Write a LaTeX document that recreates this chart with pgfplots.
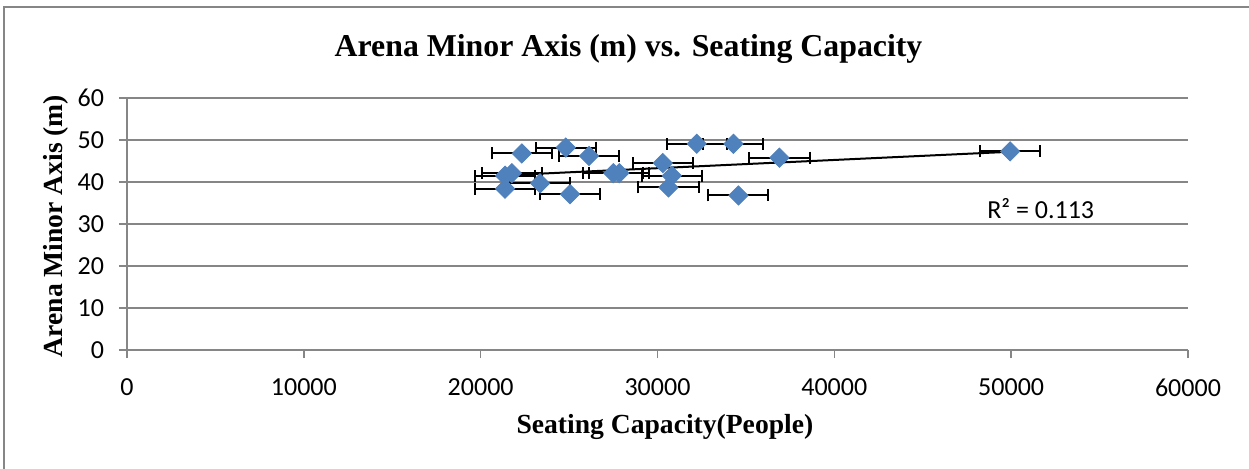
\documentclass[border=0pt]{standalone}
\usepackage{pgfplots}
\pgfplotsset{compat=1.18}
\usepackage{fontspec}
\setmainfont{Liberation Serif}
\newfontfamily\carlito{Carlito}
\definecolor{gridgray}{RGB}{134,134,134}
\definecolor{markblue}{RGB}{79,129,189}

\begin{document}
\begin{tikzpicture}
\useasboundingbox (0,0) rectangle (624.5pt,234pt);
% chart area border (only top and left visible)
\draw[gridgray, line width=0.75pt] (2pt,-2pt) -- (2pt,230.5pt) -- (627pt,230.5pt);
\begin{axis}[
    at={(63.5pt,59pt)}, anchor=south west,
    scale only axis, width=530.5pt, height=126pt,
    xmin=0, xmax=60000, ymin=0, ymax=60,
    xtick={0,10000,...,60000}, ytick={0,10,...,60},
    scaled ticks=false,
    /pgf/number format/1000 sep={},
    /pgf/number format/assume math mode=true,
    tick label style={font=\carlito\fontsize{13}{15}\selectfont, black},
    xticklabel style={yshift=-7pt},
    yticklabel style={xshift=-4pt},
    axis lines=left,
    axis line style={gridgray, line width=0.75pt, -},
    ymajorgrids,
    grid style={gridgray, line width=0.75pt},
    tick style={gridgray, line width=0.75pt},
    major tick length=4pt, tick align=outside,
    clip=false,
    title={Arena Minor Axis (m) vs. Seating Capacity},
    title style={font=\bfseries\fontsize{15.9}{18}\selectfont,
        at={(rel axis cs:0.4727,1)}, anchor=base, yshift=15pt},
    xlabel={Seating Capacity(People)},
    xlabel style={font=\bfseries\fontsize{13.8}{16}\selectfont,
        at={(rel axis cs:0.507,0)}, anchor=base, yshift=-41.5pt},
    ylabel={Arena Minor Axis (m)},
    ylabel style={font=\bfseries\fontsize{13.8}{16}\selectfont,
        at={(rel axis cs:0,0.492)}, anchor=center, yshift=35.5pt},
]
\addplot[only marks, mark=square*, mark size=3.4pt,
    mark options={rotate=45, fill=markblue, draw=markblue},
    error bars/.cd, x dir=both, x fixed=1700,
    error bar style={black, line width=1pt},
    error mark options={black, line width=1pt, mark size=3pt, rotate=90}]
coordinates {
    (22325,46.8) (24813,48.2) (26131,46.2)
    (21380,41.5) (21760,42.1) (21380,38.4)
    (23360,39.7) (25057,37.1) (27500,42.1)
    (27840,42.1) (30300,44.5) (30810,41.5)
    (30620,38.7) (32220,49.1) (34294,49.1)
    (34577,36.8) (36896,45.8) (49943,47.3)
};
\addplot[black, line width=1pt, no marks]
coordinates {(21380,41.6) (49943,47.2)};
\node[anchor=base west, font=\carlito\fontsize{13}{15}\selectfont]
    at (axis cs:48250,31.2) {R² = 0.113};
\end{axis}
\end{tikzpicture}
\end{document}
